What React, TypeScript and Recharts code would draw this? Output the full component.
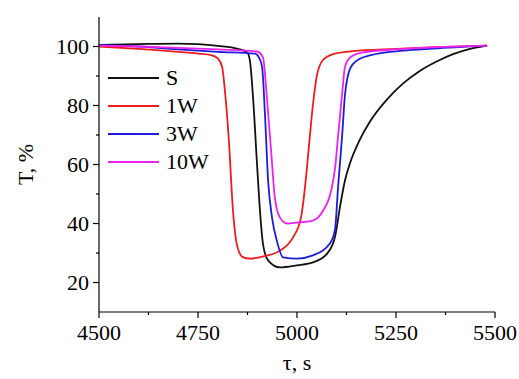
import React from "react";
import { LineChart, Line, XAxis, YAxis } from "recharts";

// time, s  /  transmittance, %
const tauS = [4500, 4600, 4700, 4750, 4800, 4850, 4874, 4881, 4889, 4899, 4907, 4914, 4927, 4957, 5000, 5040, 5076, 5096, 5109, 5121, 5134, 5159, 5184, 5227, 5268, 5311, 5354, 5394, 5437, 5480];
const tS = [100.5, 100.8, 101, 100.8, 100.2, 99.2, 98, 95.3, 82.7, 60.3, 43.4, 33.2, 27.5, 25.1, 25.8, 26.8, 29.8, 35.5, 46, 54.5, 60.5, 68.5, 74.5, 82, 87.5, 91.8, 95, 97.4, 99.2, 100.3];

const tau1W = [4500, 4600, 4700, 4750, 4785, 4800, 4811, 4818, 4828, 4838, 4848, 4862, 4881, 4920, 4957, 4990, 5010, 5020, 5030, 5040, 5050, 5066, 5091, 5141, 5250, 5350, 5480];
const t1W = [100, 99.2, 98.2, 97.6, 97, 96, 93, 85, 68, 45, 33, 28.7, 28.1, 29, 30.8, 35.3, 42, 52, 66, 80, 90, 95.5, 97.4, 98.4, 99.2, 99.8, 100.3];

const tau3W = [4500, 4600, 4700, 4800, 4894, 4905, 4912, 4919, 4927, 4937, 4949, 4965, 5000, 5040, 5083, 5096, 5104, 5114, 5121, 5134, 5152, 5184, 5268, 5343, 5480];
const t3W = [100.5, 100, 99, 98.2, 97.6, 96, 92.9, 77.3, 54.6, 42, 34.2, 28.5, 28.1, 29.2, 33.2, 38, 52.9, 69.8, 83.4, 92.5, 95.3, 97, 98.6, 99.3, 100.3];

const tau10W = [4500, 4600, 4700, 4800, 4899, 4914, 4924, 4937, 4944, 4957, 4975, 5000, 5040, 5066, 5086, 5096, 5104, 5114, 5121, 5134, 5167, 5250, 5343, 5480];
const t10W = [100.3, 100, 99.5, 99, 98.3, 96.3, 82.7, 60.3, 48.8, 42, 40, 40.3, 41, 44.4, 51, 58.6, 70, 84, 93, 96.3, 98, 99, 99.7, 100.3];

const xTicks = [4500, 4625, 4750, 4875, 5000, 5125, 5250, 5375, 5500];
const yTicks = [20, 30, 40, 50, 60, 70, 80, 90, 100];

const zip = (xs: number[], ys: number[]) => xs.map((x, i) => ({ tau: x, t: ys[i] }));

const series = [
  { name: "S", color: "#111111", data: zip(tauS, tS) },
  { name: "1W", color: "#ee1c1c", data: zip(tau1W, t1W) },
  { name: "3W", color: "#1c1cdc", data: zip(tau3W, t3W) },
  { name: "10W", color: "#ee22ee", data: zip(tau10W, t10W) },
];

const FONT = "'Liberation Serif', 'Times New Roman', serif";

const XTick = (props: any) => {
  const { x, y, payload } = props;
  const major = payload.value % 250 === 0;
  return (
    <g>
      <line x1={x} x2={x} y1={y} y2={y + (major ? 6 : 3)} stroke="#000" strokeWidth={1.2} />
      {major && (
        <text x={x} y={y + 28} textAnchor="middle" fontFamily={FONT} fontSize={22} fill="#000">
          {payload.value}
        </text>
      )}
    </g>
  );
};

const YTick = (props: any) => {
  const { x, y, payload } = props;
  const major = payload.value % 20 === 0;
  return (
    <g>
      <line x1={x - (major ? 6 : 3)} x2={x} y1={y} y2={y} stroke="#000" strokeWidth={1.2} />
      {major && (
        <text x={x - 10} y={y} dy="0.35em" textAnchor="end" fontFamily={FONT} fontSize={22} fill="#000">
          {payload.value}
        </text>
      )}
    </g>
  );
};

const LegendBox = () => (
  <div
    style={{
      position: "absolute",
      left: 108,
      top: 64,
      fontFamily: FONT,
      fontSize: 22,
      lineHeight: "28px",
      pointerEvents: "none",
    }}
  >
    {series.map((s) => (
      <div key={s.name} style={{ display: "flex", alignItems: "center", height: 28 }}>
        <div style={{ width: 51, height: 2, background: s.color, marginRight: 7 }} />
        <span style={{ color: "#000" }}>{s.name}</span>
      </div>
    ))}
  </div>
);

export default function App() {
  return (
    <div style={{ position: "absolute", left: 0, top: 0, width: 519, height: 379, background: "#fff" }}>
      <LineChart width={519} height={379} margin={{ top: 17, right: 24, left: 14, bottom: 5 }}>
        <XAxis
          dataKey="tau"
          type="number"
          domain={[4500, 5500]}
          ticks={xTicks}
          interval={0}
          allowDataOverflow
          height={62}
          stroke="#000"
          strokeWidth={1.2}
          tickSize={0}
          tickMargin={0}
          tickLine={false}
          tick={<XTick />}
          label={{ value: "τ, s", position: "insideBottom", offset: 4, fontFamily: FONT, fontSize: 22, fill: "#000" }}
        />
        <XAxis
          xAxisId="top"
          orientation="top"
          type="number"
          domain={[4500, 5500]}
          height={0}
          tick={false}
          tickLine={false}
          stroke="#555"
          strokeWidth={1.2}
        />
        <YAxis
          type="number"
          domain={[10, 110]}
          ticks={yTicks}
          interval={0}
          allowDataOverflow
          width={85}
          stroke="#000"
          strokeWidth={1.2}
          tickSize={0}
          tickMargin={0}
          tickLine={false}
          tick={<YTick />}
          label={{
            value: "T, %",
            angle: -90,
            position: "insideLeft",
            offset: 11,
            style: { textAnchor: "middle" },
            fontFamily: FONT,
            fontSize: 22,
            fill: "#000",
          }}
        />
        <YAxis
          yAxisId="right"
          orientation="right"
          type="number"
          domain={[10, 110]}
          width={0}
          tick={false}
          tickLine={false}
          stroke="#555"
          strokeWidth={1.2}
        />
        {series.map((s) => (
          <Line
            key={s.name}
            data={s.data}
            dataKey="t"
            name={s.name}
            type="monotone"
            stroke={s.color}
            strokeWidth={1.8}
            dot={false}
            isAnimationActive={false}
          />
        ))}
      </LineChart>
      <LegendBox />
    </div>
  );
}
